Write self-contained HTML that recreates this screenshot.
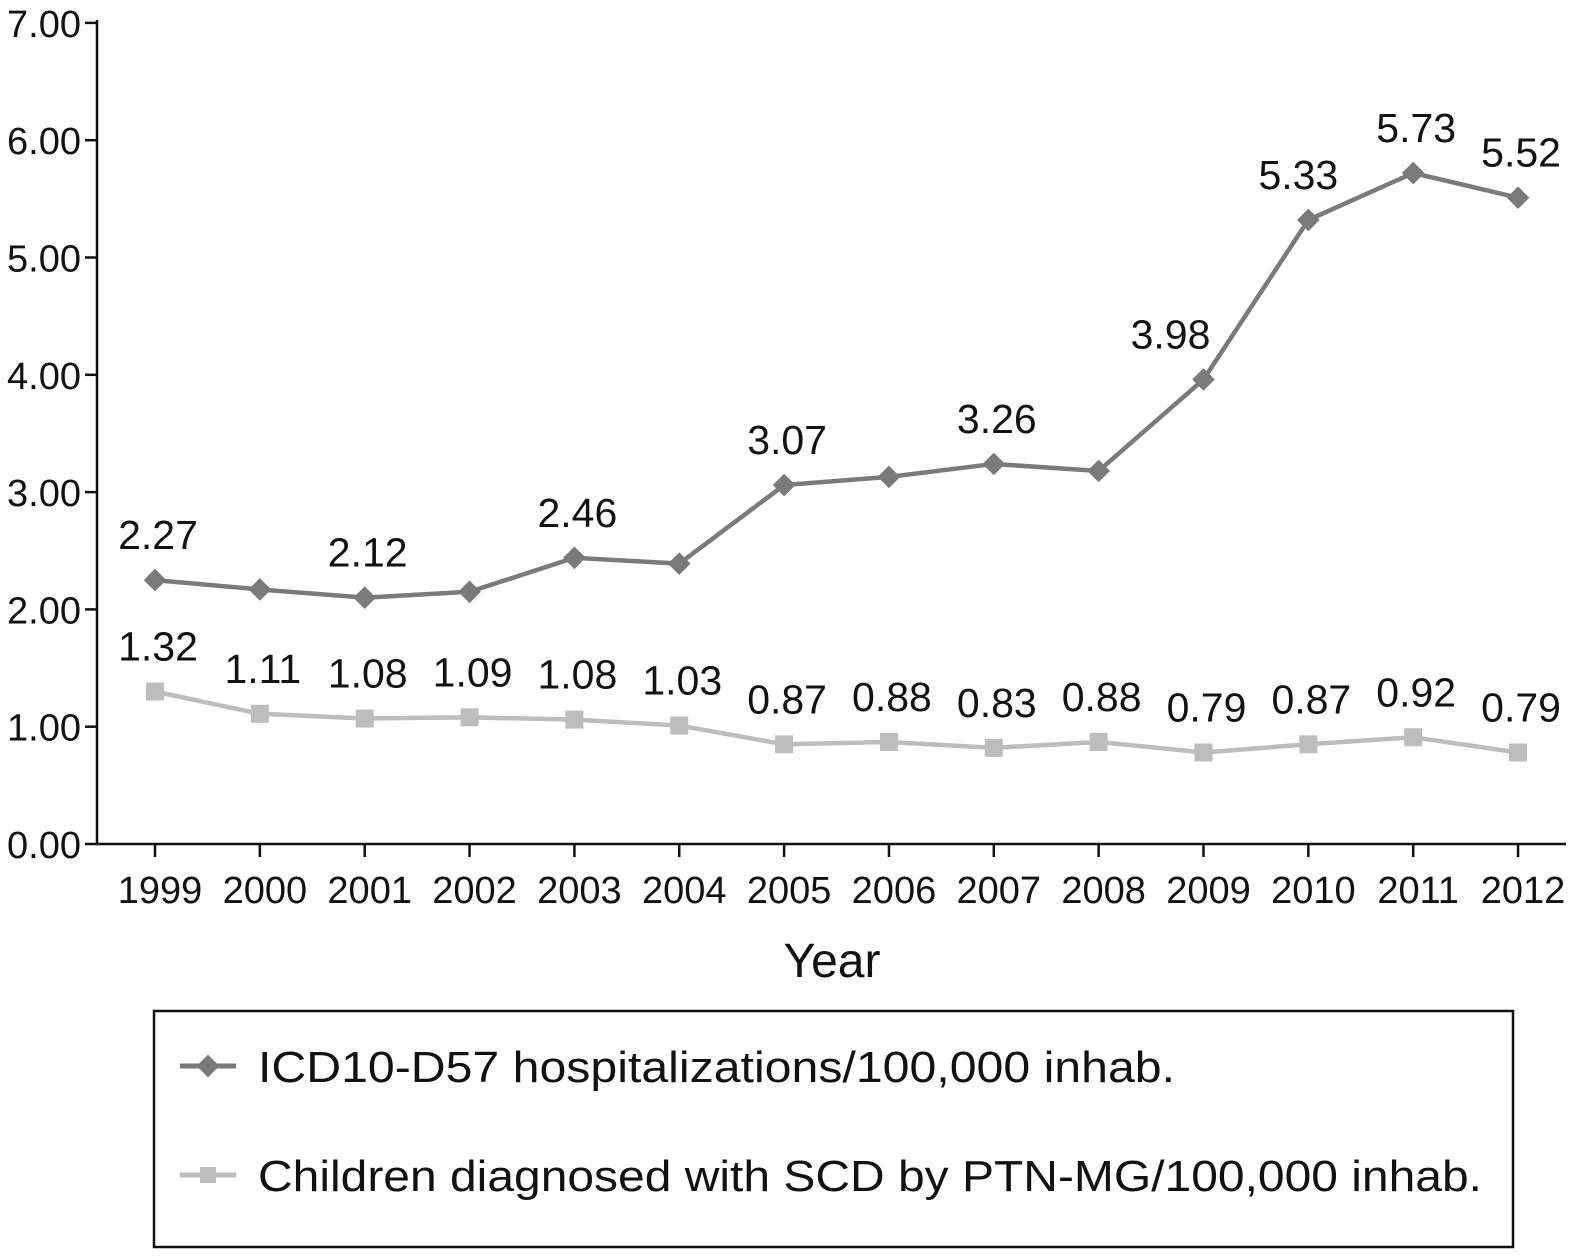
<!DOCTYPE html>
<html><head><meta charset="utf-8"><style>
body{margin:0;background:#fff;}
svg text{font-family:"Liberation Sans",sans-serif;fill:#111;}
</style></head><body>
<svg id="chart" width="1573" height="1253" xmlns="http://www.w3.org/2000/svg">
<g id="axes"></g><g id="series"></g>
<g>
<rect x="154" y="1011" width="1359" height="236" fill="none" stroke="#111" stroke-width="2.5"/>
<g>
<line x1="180" y1="1066" x2="236" y2="1066" stroke="#7a7a7a" stroke-width="5"/>
<rect x="200" y="1058" width="16" height="16" transform="rotate(45 208 1066)" fill="#7a7a7a"/>
<text x="258" y="1082" font-size="44" textLength="917" lengthAdjust="spacingAndGlyphs">ICD10-D57 hospitalizations/100,000 inhab.</text></g>
<g>
<line x1="180" y1="1175" x2="236" y2="1175" stroke="#bdbdbd" stroke-width="5"/>
<rect x="200" y="1167" width="16" height="16" fill="#bdbdbd"/>
<text x="258" y="1191" font-size="44" textLength="1224" lengthAdjust="spacingAndGlyphs">Children diagnosed with SCD by PTN-MG/100,000 inhab.</text></g>
</g>
</svg>
<script>
const years=["1999","2000","2001","2002","2003","2004","2005","2006","2007","2008","2009","2010","2011","2012"];
const hosp=[2.25,2.17,2.10,2.15,2.44,2.39,3.06,3.13,3.24,3.18,3.96,5.32,5.72,5.51];
const hospLabels=["2.27","","2.12","","2.46","","3.07","","3.26","","3.98","5.33","5.73","5.52"];
const kids=[1.30,1.11,1.07,1.08,1.06,1.01,0.85,0.87,0.82,0.87,0.78,0.85,0.91,0.78];
const kidsLabels=["1.32","1.11","1.08","1.09","1.08","1.03","0.87","0.88","0.83","0.88","0.79","0.87","0.92","0.79"];
const yTicks=[0,1,2,3,4,5,6,7];
const NS="http://www.w3.org/2000/svg";
function X(i){return 155+i*104.85;}
function Y(v){return 844-v*117.3;}
function mk(tag,attrs,parent){const e=document.createElementNS(NS,tag);for(const k in attrs)e.setAttribute(k,attrs[k]);parent.appendChild(e);return e;}
const axes=document.getElementById('axes'),ser=document.getElementById('series');
let a=mk('line',{x1:97,y1:20,x2:97,y2:845,stroke:'#111','stroke-width':2.5},axes);


a=mk('line',{x1:96,y1:844,x2:1566,y2:844,stroke:'#111','stroke-width':2.5},axes);


yTicks.forEach(v=>{
 mk('line',{x1:85,y1:Y(v),x2:97,y2:Y(v),stroke:'#111','stroke-width':2.5},axes);
 const t=mk('text',{x:81,y:Y(v)+14,'font-size':38,'text-anchor':'end'},axes);t.textContent=v.toFixed(2);
 
 
});
years.forEach((y,i)=>{
 mk('line',{x1:X(i),y1:844,x2:X(i),y2:857,stroke:'#111','stroke-width':2.5},axes);
 const t=mk('text',{x:X(i)+5,y:903,'font-size':38,'text-anchor':'middle'},axes);t.textContent=y;
 
 
});
let yt=mk('text',{x:832,y:977,'font-size':48,'text-anchor':'middle'},axes);yt.textContent='Year';


function draw(vals,labels,color,shape,name){
 const g=mk('g',{},ser);
 
 
 mk('polyline',{points:vals.map((v,i)=>X(i)+','+Y(v)).join(' '),fill:'none',stroke:color,'stroke-width':4.5},g);
 vals.forEach((v,i)=>{
  let p;
  if(shape==='diamond')p=mk('rect',{x:X(i)-8,y:Y(v)-8,width:16,height:16,fill:color,transform:`rotate(45 ${X(i)} ${Y(v)})`},g);
  else p=mk('rect',{x:X(i)-9,y:Y(v)-9,width:18,height:18,fill:color},g);
  
  
  if(labels[i]){
   const dx=(shape==='diamond'&&i===10)?-33:(shape==='diamond'&&i===11?-10:3);
   const t=mk('text',{x:X(i)+dx,y:Y(v)-31,'font-size':41,'text-anchor':'middle'},g);t.textContent=labels[i];
   
   }
 });
}
draw(kids,kidsLabels,'#bdbdbd','square','children-series');
draw(hosp,hospLabels,'#7a7a7a','diamond','hospitalizations-series');
</script>
</body></html>
